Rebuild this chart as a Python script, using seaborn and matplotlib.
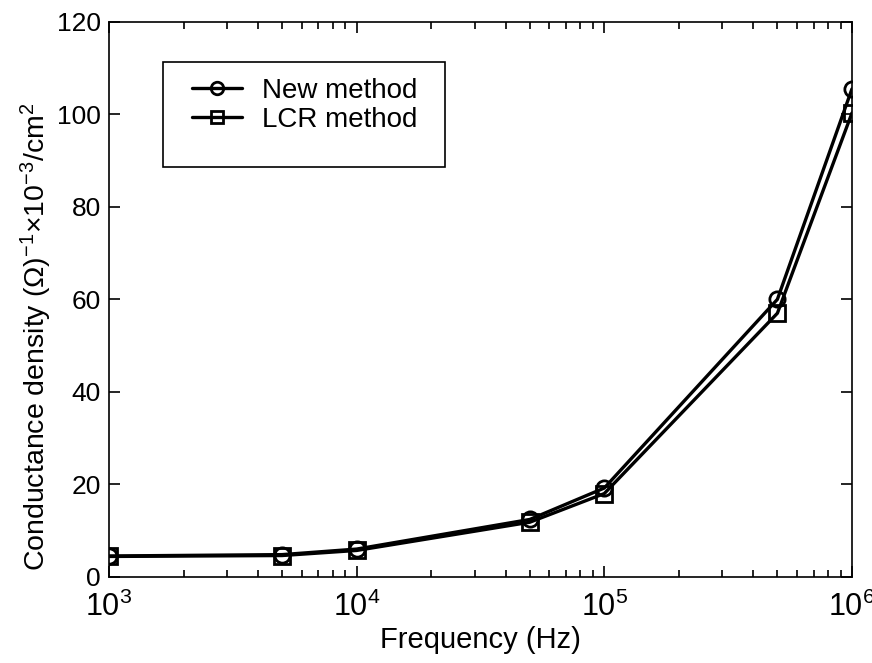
import numpy as np
import pandas as pd
import seaborn as sns
import matplotlib.pyplot as plt
from matplotlib.lines import Line2D
from matplotlib.patches import Rectangle
from matplotlib.ticker import LogLocator, NullFormatter

# Values
frequency = [1e3, 5e3, 1e4, 5e4, 1e5, 5e5, 1e6]
new_method = [4.5, 4.8, 6.0, 12.4, 19.2, 60.0, 105.5]
lcr_method = [4.4, 4.6, 5.7, 11.8, 18.0, 57.0, 100.3]
series_names = ['New method', 'LCR method']
xtick_labels = [r'$10^{3}$', r'$10^{4}$', r'$10^{5}$', r'$10^{6}$']

df = pd.DataFrame({
    'Frequency': frequency * 2,
    'Conductance': new_method + lcr_method,
    'Method': [series_names[0]] * len(frequency) + [series_names[1]] * len(frequency),
})

sns.set_style('ticks')
plt.rcParams['font.family'] = ['Liberation Sans', 'DejaVu Sans']
plt.rcParams['mathtext.fontset'] = 'custom'
plt.rcParams['mathtext.rm'] = 'Liberation Sans'
plt.rcParams['mathtext.it'] = 'Liberation Sans'
plt.rcParams['mathtext.bf'] = 'Liberation Sans:bold'
for key in ['text.color', 'axes.labelcolor', 'xtick.color', 'ytick.color', 'axes.edgecolor']:
    plt.rcParams[key] = 'black'

fig = plt.figure(figsize=(8.72, 6.63), dpi=100)
ax = fig.add_axes([0.125, 0.13, 0.852, 0.837])

sns.lineplot(
    data=df, x='Frequency', y='Conductance', hue='Method', style='Method',
    palette=['black', 'black'], markers={'New method': 'o', 'LCR method': 's'},
    dashes=False, linewidth=2.4, markersize=11, ax=ax, legend=False,
)
for line in ax.lines:
    line.set_markerfacecolor('none')
    line.set_markeredgecolor('black')
    line.set_markeredgewidth(2)

ax.set_xscale('log')
ax.set_xlim(1e3, 1e6)
ax.set_ylim(0, 120)
ax.set_yticks(np.arange(0, 121, 20))
ax.set_xticks([1e3, 1e4, 1e5, 1e6])
ax.set_xticklabels(xtick_labels)
ax.xaxis.set_minor_locator(LogLocator(base=10, subs=np.arange(2, 10)))
ax.xaxis.set_minor_formatter(NullFormatter())

ax.tick_params(which='both', direction='in', top=True, right=True, width=1.2)
ax.tick_params(which='major', length=8)
ax.tick_params(which='minor', length=5)
ax.tick_params(axis='y', labelsize=19, pad=6)
ax.tick_params(axis='x', labelsize=22, pad=11)
for spine in ax.spines.values():
    spine.set_linewidth(1.2)

ax.set_xlabel('Frequency (Hz)', fontsize=21, labelpad=2)
ax.set_ylabel(r'Conductance density ($\Omega$)$^{-1}$$\times$10$^{-3}$/cm$^{2}$', fontsize=20.5)
ax.yaxis.set_label_coords(-0.074, 0.432)

# legend box (MATLAB style, with empty space below the entries)
ax.add_patch(Rectangle((0.0727, 0.739), 0.379, 0.189, transform=ax.transAxes,
                       facecolor='white', edgecolor='black', lw=1.2, zorder=5))
handles = [
    Line2D([], [], color='black', lw=2.4, marker='o', mfc='none', mec='black', mew=2, ms=9),
    Line2D([], [], color='black', lw=2.4, marker='s', mfc='none', mec='black', mew=2, ms=9),
]
leg = ax.legend(handles, series_names, loc='upper left', bbox_to_anchor=(0.112, 0.899),
                fontsize=20, frameon=False, handlelength=1.8, handletextpad=0.72,
                borderpad=0, labelspacing=0.1, borderaxespad=0)
leg.set_zorder(6)

fig.savefig('out.png', dpi=100)
